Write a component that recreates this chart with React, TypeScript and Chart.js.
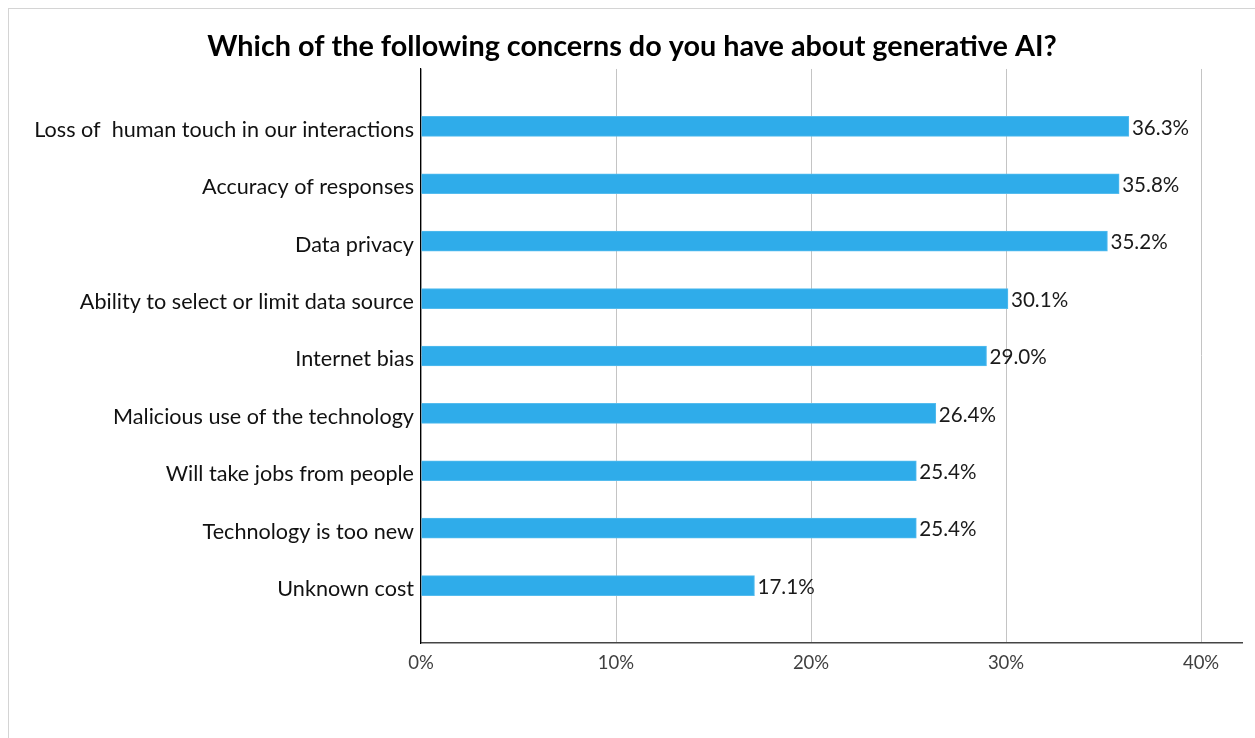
import React, { useEffect, useRef } from "react";
import { Chart, registerables } from "chart.js";

Chart.register(...registerables);

const TITLE = "Which of the following concerns do you have about generative AI?";
const categories = [
  "Loss of  human touch in our interactions",
  "Accuracy of responses",
  "Data privacy",
  "Ability to select or limit data source",
  "Internet bias",
  "Malicious use of the technology",
  "Will take jobs from people",
  "Technology is too new",
  "Unknown cost",
];
const values = [36.3, 35.8, 35.2, 30.1, 29.0, 26.4, 25.4, 25.4, 17.1];
const xTicks = [0, 10, 20, 30, 40];
const X_MAX = 42.1;

const FONT = "Lato, 'Open Sans', sans-serif";

const valueLabels = {
  id: "valueLabels",
  afterDatasetsDraw(chart: any) {
    const ctx = chart.ctx;
    const meta = chart.getDatasetMeta(0);
    const data = chart.data.datasets[0].data;
    ctx.save();
    ctx.font = `20.6px ${FONT}`;
    ctx.fillStyle = "#1a1a1a";
    ctx.textAlign = "left";
    ctx.textBaseline = "middle";
    meta.data.forEach((el: any, i: number) => {
      const v = data[i];
      if (v === null || v === undefined) return;
      ctx.fillText(`${Number(v).toFixed(1)}%`, el.x + 3, el.y + 1.5);
    });
    ctx.restore();
  },
};

export default function App() {
  const ref = useRef<HTMLCanvasElement>(null);
  useEffect(() => {
    if (!ref.current) return;
    const labels = ["", ...categories, ""];
    const data = [null, ...values, null];
    const chart = new Chart(ref.current, {
      type: "bar",
      data: {
        labels,
        datasets: [
          {
            data,
            backgroundColor: "#2FACEA",
            borderColor: "#55BCEE",
            borderWidth: 1,
            barThickness: 20,
          },
        ],
      },
      plugins: [valueLabels],
      options: {
        indexAxis: "y",
        animation: false,
        responsive: false,
        devicePixelRatio: 1,
        layout: { padding: { left: 13, right: 13, top: 0, bottom: 0 } },
        plugins: {
          legend: { display: false },
          tooltip: { enabled: false },
          title: {
            display: true,
            text: TITLE,
            color: "#000",
            font: { family: FONT, size: 28.8, weight: "bold" },
            padding: { top: 20.9, bottom: 4.5 },
          },
        },
        scales: {
          x: {
            min: 0,
            max: X_MAX,
            afterBuildTicks: (scale: any) => {
              scale.ticks = xTicks.map((v) => ({ value: v }));
            },
            afterFit: (scale: any) => {
              scale.height = 95;
            },
            grid: { color: "#c4c4c4", lineWidth: 1, drawTicks: false },
            border: { color: "#444", width: 1.5 },
            ticks: {
              padding: 9,
              color: "#404040",
              font: { family: FONT, size: 18.5 },
              callback: (v: any) => `${v}%`,
            },
          },
          y: {
            offset: false,
            afterFit: (scale: any) => {
              scale.width = 399;
            },
            grid: { display: false, drawTicks: false },
            border: { color: "#000", width: 1.2 },
            ticks: {
              padding: 7,
              labelOffset: 3.5,
              color: "#111",
              autoSkip: false,
              font: { family: FONT, size: 21.6 },
            },
          },
        },
      },
    });
    return () => chart.destroy();
  }, []);
  return (
    <div
      style={{
        position: "fixed",
        left: 8,
        top: 8,
        width: 1247,
        height: 730,
        boxSizing: "border-box",
        borderTop: "1px solid #d4d4d4",
        borderLeft: "1px solid #d4d4d4",
        background: "#fff",
      }}
    >
      <canvas ref={ref} width={1246} height={729} style={{ display: "block" }} />
    </div>
  );
}
